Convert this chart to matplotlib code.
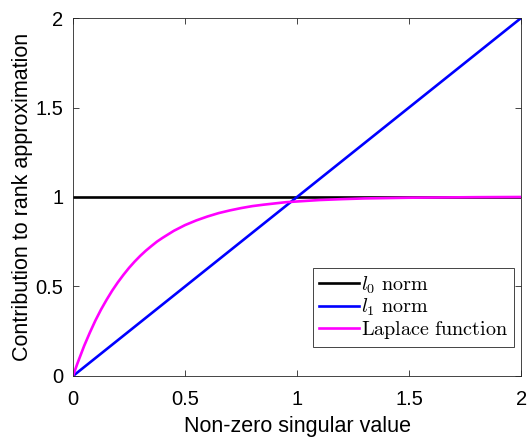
import numpy as np
import matplotlib
matplotlib.use('Agg')
from matplotlib import pyplot as plt

# values
x_line = [0, 2]
l0_vals = [1, 1]
l1_vals = [0, 2]

x_lap = [0, 0.01, 0.02, 0.035, 0.05, 0.075, 0.1, 0.125, 0.15, 0.175, 0.2, 0.225, 0.25,
         0.275, 0.3, 0.325, 0.35, 0.375, 0.4, 0.45, 0.5, 0.55, 0.6, 0.65, 0.7, 0.75,
         0.8, 0.85, 0.9, 0.95, 1.0, 1.1, 1.2, 1.3, 1.4, 1.5, 1.6, 1.8, 2.0]
lap_vals = [0, 0.036, 0.071, 0.12, 0.169, 0.242, 0.31, 0.371, 0.426, 0.477, 0.523, 0.565,
            0.604, 0.639, 0.671, 0.7, 0.726, 0.751, 0.772, 0.811, 0.843, 0.869, 0.891,
            0.91, 0.925, 0.938, 0.949, 0.957, 0.964, 0.971, 0.975, 0.983, 0.988, 0.992,
            0.994, 0.996, 0.997, 0.999, 1.0]

xticks = [0, 0.5, 1, 1.5, 2]
xtick_labels = ['0', '0.5', '1', '1.5', '2']
yticks = [0, 0.5, 1, 1.5, 2]
ytick_labels = ['0', '0.5', '1', '1.5', '2']

plt.rcParams['font.family'] = ['Liberation Sans', 'DejaVu Sans']
plt.rcParams['mathtext.fontset'] = 'cm'

fig = plt.figure(figsize=(5.29, 4.37), dpi=100)
ax = fig.add_axes([0.138, 0.1396, 0.847, 0.8192])

ax.plot(x_line, l0_vals, color='black', lw=1.9, label=r'$l_0\ \mathrm{norm}$')
ax.plot(x_line, l1_vals, color='#0000ff', lw=1.9, label=r'$l_1\ \mathrm{norm}$')
ax.plot(x_lap, lap_vals, color='#ff00ff', lw=1.9, label=r'$\mathrm{Laplace\ function}$')

ax.set_xlim(0, 2)
ax.set_ylim(0, 2)
ax.set_xticks(xticks)
ax.set_xticklabels(xtick_labels)
ax.set_yticks(yticks)
ax.set_yticklabels(ytick_labels)
ax.tick_params(direction='in', top=True, right=True, labelsize=14.5, color='#262626',
               length=4, width=0.6, pad=7)
ax.tick_params(axis='x', pad=10)
for s in ax.spines.values():
    s.set_color('#262626')
    s.set_linewidth(0.6)

ax.set_xlabel('Non-zero singular value', fontsize=15.5, labelpad=5)
ax.set_ylabel('Contribution to rank approximation', fontsize=15.5, labelpad=2)

leg = ax.legend(loc='lower right', bbox_to_anchor=(0.985, 0.08), fontsize=14.5,
                handlelength=2.0, handletextpad=0.1, borderpad=0.3, labelspacing=0.05,
                borderaxespad=0, fancybox=False, framealpha=1, edgecolor='#262626')
leg.get_frame().set_linewidth(0.6)

plt.savefig('out.png', dpi=100)
